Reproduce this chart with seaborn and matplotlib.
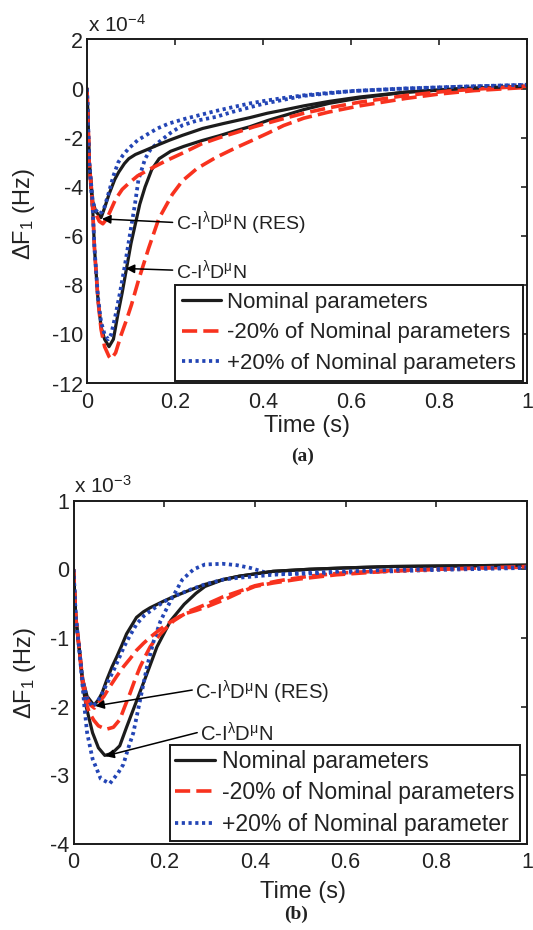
import matplotlib
matplotlib.use("Agg")
import matplotlib.pyplot as plt
import seaborn as sns

# ---------------- data : panel (a)  (values in units of 1e-4 Hz) ----------------
t_a_nom = [0, 0.005, 0.013, 0.017, 0.025, 0.032, 0.04, 0.05, 0.06, 0.07, 0.08, 0.09, 0.1, 0.11,
           0.12, 0.132, 0.147, 0.164, 0.19, 0.22, 0.26, 0.3, 0.34, 0.37, 0.41, 0.447, 0.493,
           0.55, 0.62, 0.72, 0.85, 1.0]
v_a_nom = [0, -3.0, -4.9, -6.5, -8.6, -9.7, -10.2, -10.5, -10.2, -9.2, -8.3, -7.3, -6.3, -5.5,
           -4.7, -4.0, -3.3, -2.85, -2.55, -2.35, -2.12, -1.92, -1.7, -1.55, -1.3, -1.1, -0.85,
           -0.6, -0.38, -0.15, 0.0, 0.08]

t_a_m20 = [0, 0.005, 0.013, 0.017, 0.025, 0.032, 0.04, 0.05, 0.055, 0.065, 0.078, 0.09, 0.101,
           0.117, 0.14, 0.163, 0.194, 0.217, 0.25, 0.293, 0.339, 0.37, 0.41, 0.447, 0.493, 0.55,
           0.62, 0.724, 0.8, 0.88, 0.954, 1.0]
v_a_m20 = [0, -3.0, -4.9, -6.5, -8.6, -9.8, -10.5, -10.9, -11.0, -10.75, -10.0, -9.4, -8.8,
           -7.8, -6.5, -5.3, -4.3, -3.75, -3.25, -2.8, -2.4, -2.15, -1.82, -1.5, -1.2, -0.95,
           -0.7, -0.4, -0.22, -0.08, 0.0, 0.05]

t_a_p20 = [0, 0.005, 0.013, 0.017, 0.025, 0.032, 0.04, 0.048, 0.055, 0.065, 0.075, 0.086, 0.097,
           0.109, 0.117, 0.132, 0.145, 0.163, 0.19, 0.217, 0.25, 0.293, 0.33, 0.4, 0.49, 0.6,
           0.72, 0.85, 1.0]
v_a_p20 = [0, -3.0, -4.9, -6.5, -8.5, -9.5, -10.0, -10.2, -10.0, -9.2, -8.3, -7.2, -6.0, -4.7,
           -3.7, -2.86, -2.45, -2.18, -1.8, -1.49, -1.3, -1.15, -0.95, -0.62, -0.3, -0.1, 0.0,
           0.08, 0.15]

t_a_nom_res = [0, 0.005, 0.013, 0.02, 0.032, 0.04, 0.05, 0.063, 0.072, 0.085, 0.095, 0.11,
               0.134, 0.16, 0.187, 0.217, 0.263, 0.31, 0.34, 0.37, 0.41, 0.447, 0.493, 0.55,
               0.62, 0.72, 0.85, 1.0]
v_a_nom_res = [0, -3.0, -4.6, -5.0, -5.25, -4.85, -4.3, -3.7, -3.4, -3.05, -2.85, -2.68, -2.5,
               -2.3, -2.1, -1.9, -1.62, -1.42, -1.3, -1.18, -1.0, -0.87, -0.7, -0.52, -0.34,
               -0.15, 0.0, 0.1]

t_a_m20_res = [0, 0.005, 0.013, 0.02, 0.028, 0.036, 0.045, 0.055, 0.065, 0.08, 0.095, 0.115,
               0.14, 0.178, 0.22, 0.26, 0.3, 0.34, 0.38, 0.447, 0.493, 0.55, 0.62, 0.724, 0.82,
               0.92, 1.0]
v_a_m20_res = [0, -3.0, -4.7, -5.1, -5.4, -5.5, -5.3, -4.9, -4.5, -4.1, -3.85, -3.55, -3.3,
               -2.95, -2.6, -2.25, -2.0, -1.78, -1.55, -1.22, -1.0, -0.78, -0.55, -0.28, -0.1,
               0.02, 0.1]

t_a_p20_res = [0, 0.005, 0.013, 0.02, 0.028, 0.035, 0.04, 0.05, 0.06, 0.071, 0.082, 0.094,
               0.115, 0.14, 0.16, 0.186, 0.22, 0.255, 0.29, 0.332, 0.37, 0.409, 0.45, 0.493,
               0.55, 0.62, 0.724, 0.85, 1.0]
v_a_p20_res = [0, -3.0, -4.6, -4.95, -5.1, -5.0, -4.8, -4.2, -3.55, -3.0, -2.7, -2.45, -2.1,
               -1.83, -1.62, -1.42, -1.24, -1.08, -0.92, -0.75, -0.6, -0.48, -0.37, -0.27,
               -0.17, -0.08, 0.01, 0.08, 0.16]

# ---------------- data : panel (b)  (values in units of 1e-3 Hz) ----------------
t_b_nom = [0, 0.005, 0.013, 0.02, 0.028, 0.042, 0.055, 0.069, 0.085, 0.102, 0.117, 0.132,
           0.147, 0.162, 0.184, 0.214, 0.244, 0.27, 0.29, 0.33, 0.366, 0.44, 0.52, 0.6, 0.7,
           0.85, 1.0]
v_b_nom = [0, -0.7, -1.18, -1.66, -2.0, -2.38, -2.6, -2.71, -2.68, -2.57, -2.3, -2.04, -1.78,
           -1.52, -1.13, -0.75, -0.51, -0.35, -0.25, -0.15, -0.1, -0.03, 0.0, 0.02, 0.04,
           0.05, 0.06]

t_b_m20 = [0, 0.005, 0.013, 0.02, 0.028, 0.035, 0.045, 0.055, 0.072, 0.088, 0.102, 0.113,
           0.125, 0.136, 0.147, 0.158, 0.169, 0.18, 0.192, 0.205, 0.221, 0.24, 0.259, 0.296,
           0.33, 0.37, 0.4, 0.45, 0.52, 0.6, 0.7, 0.8, 0.9, 1.0]
v_b_m20 = [0, -0.7, -1.18, -1.66, -1.95, -2.09, -2.2, -2.28, -2.33, -2.3, -2.19, -2.0, -1.8,
           -1.6, -1.42, -1.27, -1.13, -1.03, -0.94, -0.85, -0.75, -0.67, -0.6, -0.5, -0.4,
           -0.31, -0.24, -0.17, -0.1, -0.05, -0.02, 0.0, 0.02, 0.03]

t_b_p20 = [0, 0.005, 0.013, 0.02, 0.024, 0.03, 0.042, 0.06, 0.08, 0.098, 0.11, 0.12, 0.132,
           0.147, 0.162, 0.177, 0.192, 0.214, 0.24, 0.265, 0.29, 0.329, 0.36, 0.39, 0.42,
           0.47, 0.55, 0.65, 0.8, 1.0]
v_b_p20 = [0, -0.7, -1.18, -1.7, -2.0, -2.38, -2.76, -3.05, -3.12, -2.97, -2.84, -2.62, -2.38,
           -1.9, -1.42, -1.04, -0.75, -0.46, -0.15, 0.0, 0.07, 0.08, 0.06, 0.02, -0.04, -0.07,
           -0.06, -0.04, -0.01, 0.02]

t_b_nom_res = [0, 0.005, 0.013, 0.02, 0.03, 0.045, 0.055, 0.063, 0.074, 0.085, 0.095, 0.107,
               0.117, 0.128, 0.139, 0.154, 0.169, 0.2, 0.217, 0.25, 0.29, 0.33, 0.366, 0.44,
               0.52, 0.6, 0.7, 0.85, 1.0]
v_b_nom_res = [0, -0.7, -1.18, -1.6, -1.85, -1.98, -1.9, -1.8, -1.6, -1.42, -1.28, -1.1, -0.94,
               -0.82, -0.7, -0.62, -0.56, -0.46, -0.41, -0.32, -0.22, -0.15, -0.1, -0.03, 0.0,
               0.02, 0.04, 0.05, 0.06]

t_b_m20_res = [0, 0.005, 0.013, 0.02, 0.03, 0.038, 0.046, 0.055, 0.067, 0.08, 0.095, 0.11,
               0.125, 0.139, 0.154, 0.169, 0.186, 0.206, 0.225, 0.244, 0.27, 0.296, 0.33, 0.366,
               0.4, 0.44, 0.5, 0.58, 0.69, 0.8, 0.9, 1.0]
v_b_m20_res = [0, -0.7, -1.18, -1.6, -1.88, -1.98, -2.02, -1.95, -1.85, -1.71, -1.56, -1.42,
               -1.3, -1.18, -1.08, -0.99, -0.9, -0.8, -0.72, -0.65, -0.6, -0.54, -0.45, -0.34,
               -0.25, -0.2, -0.14, -0.08, -0.03, 0.0, 0.02, 0.04]

t_b_p20_res = [0, 0.005, 0.013, 0.02, 0.03, 0.042, 0.05, 0.06, 0.075, 0.09, 0.1, 0.112, 0.125,
               0.139, 0.155, 0.175, 0.2, 0.23, 0.26, 0.29, 0.33, 0.37, 0.44, 0.52, 0.6, 0.7,
               0.85, 1.0]
v_b_p20_res = [0, -0.7, -1.18, -1.62, -1.88, -2.0, -1.95, -1.85, -1.65, -1.45, -1.3, -1.12,
               -0.96, -0.8, -0.68, -0.58, -0.47, -0.37, -0.29, -0.22, -0.15, -0.12, -0.08,
               -0.05, -0.03, -0.01, 0.01, 0.03]

legend_a = ["Nominal parameters", "-20% of Nominal parameters", "+20% of Nominal parameters"]
legend_b = ["Nominal parameters", "-20% of Nominal parameters", "+20% of Nominal parameter"]
xticks = [0, 0.2, 0.4, 0.6, 0.8, 1]
xticklabels = ["0", "0.2", "0.4", "0.6", "0.8", "1"]
yticks_a = [2, 0, -2, -4, -6, -8, -10, -12]
yticks_b = [1, 0, -1, -2, -3, -4]

# ---------------- style ----------------
sns.set_theme(style="white")
plt.rcParams["font.family"] = ["Liberation Sans", "DejaVu Sans"]
plt.rcParams["mathtext.fontset"] = "custom"
plt.rcParams["mathtext.rm"] = "Liberation Sans"
plt.rcParams["mathtext.it"] = "Liberation Sans"
plt.rcParams["axes.unicode_minus"] = False

TXT = "#222222"
BLACK = "#1c1c1c"
RED = "#f8321e"
BLUE = "#2345b5"
styles = [
    dict(color=BLACK, linestyle="-", lw=2.3),
    dict(color=RED, linestyle=(0, (4.2, 1.7)), lw=2.6),
    dict(color=BLUE, linestyle=(0, (0.85, 0.95)), lw=2.7),
]

W, H = 533, 930
fig = plt.figure(figsize=(W / 100, H / 100), dpi=100)


def fx(px):
    return px / W


def fy(py):
    return 1 - py / H


def style_axes(ax, yticks, ylim):
    ax.set_xlim(0, 1)
    ax.set_ylim(*ylim)
    ax.set_xticks(xticks)
    ax.set_xticklabels(xticklabels)
    ax.set_yticks(yticks)
    ax.set_yticklabels([str(v) for v in yticks])
    ax.tick_params(direction="in", length=4, width=1.2, top=True, right=True,
                   labelsize=15.5, colors=TXT)
    ax.tick_params(axis="x", pad=6)
    ax.tick_params(axis="y", pad=3)
    for s in ax.spines.values():
        s.set_visible(True)
        s.set_color("#1a1a1a")
        s.set_linewidth(1.4)
    ax.grid(False)


def draw_panel(ax, mains, res, labels):
    for (t, v), st, lab in zip(mains, styles, labels):
        sns.lineplot(x=t, y=v, ax=ax, estimator=None, sort=False, label=lab, **st)
    for (t, v), st in zip(res, styles):
        sns.lineplot(x=t, y=v, ax=ax, estimator=None, sort=False, **st)


# axes boxes in pixels (left, top, right, bottom)
box_a = (87, 39.5, 527, 383.5)
box_b = (73.5, 500.6, 527, 844)

axa = fig.add_axes([fx(box_a[0]), fy(box_a[3]), (box_a[2] - box_a[0]) / W, (box_a[3] - box_a[1]) / H])
draw_panel(axa,
           [(t_a_nom, v_a_nom), (t_a_m20, v_a_m20), (t_a_p20, v_a_p20)],
           [(t_a_nom_res, v_a_nom_res), (t_a_m20_res, v_a_m20_res), (t_a_p20_res, v_a_p20_res)],
           legend_a)
style_axes(axa, yticks_a, (-12, 2))

axb = fig.add_axes([fx(box_b[0]), fy(box_b[3]), (box_b[2] - box_b[0]) / W, (box_b[3] - box_b[1]) / H])
draw_panel(axb,
           [(t_b_nom, v_b_nom), (t_b_m20, v_b_m20), (t_b_p20, v_b_p20)],
           [(t_b_nom_res, v_b_nom_res), (t_b_m20_res, v_b_m20_res), (t_b_p20_res, v_b_p20_res)],
           legend_b)
style_axes(axb, yticks_b, (-4, 1))

# legends
for ax, (lx, ly), labs, fs, ls, bp in ((axa, (175, 285), legend_a, 16.0, 0.44, 0.3),
                                       (axb, (170, 745), legend_b, 16.6, 0.36, 0.22)):
    handles = ax.get_legend_handles_labels()[0][:3]
    leg = ax.legend(handles, labs, loc="upper left", bbox_to_anchor=(fx(lx), fy(ly)),
                    bbox_transform=fig.transFigure, borderaxespad=0, fontsize=fs,
                    frameon=True, fancybox=False, framealpha=1, edgecolor="#1a1a1a",
                    handlelength=1.75, handletextpad=0.3, labelspacing=ls,
                    borderpad=bp)
    leg.get_frame().set_linewidth(1.4)
    for txt in leg.get_texts():
        txt.set_color(TXT)


def ax_frac(box, px, py):
    return ((px - box[0]) / (box[2] - box[0]), (box[3] - py) / (box[3] - box[1]))


for ax, box, xl, yl in ((axa, box_a, (306.7, 426), (24, 214)), (axb, box_b, (303, 892), (24.6, 673))):
    ax.set_xlabel("Time (s)", fontsize=17, color=TXT, va="center")
    ax.xaxis.set_label_coords(*ax_frac(box, *xl))
    ax.set_ylabel("ΔF$_{\\mathregular{1}}$ (Hz)", fontsize=17, color=TXT, va="center")
    ax.yaxis.set_label_coords(*ax_frac(box, *yl))

# exponent labels
fig.text(fx(87.7), fy(32.3), "x 10$^{\\mathregular{-4}}$", fontsize=15, color=TXT, va="baseline")
fig.text(fx(74), fy(493), "x 10$^{\\mathregular{-3}}$", fontsize=15, color=TXT, va="baseline")

# annotations
arrow = dict(arrowstyle="-|>", color="black", lw=1.1, shrinkA=0, shrinkB=0, mutation_scale=13)
lab_res = "C-I$^{\\mathregular{λ}}$D$^{\\mathregular{μ}}$N (RES)"
lab_main = "C-I$^{\\mathregular{λ}}$D$^{\\mathregular{μ}}$N"
axa.annotate(lab_res, xy=(0.034, -5.3), xytext=(0.202, -5.45), fontsize=14, color=TXT,
             ha="left", va="center", arrowprops=dict(arrow, relpos=(0, 0.5)))
axa.annotate(lab_main, xy=(0.088, -7.32), xytext=(0.202, -7.39), fontsize=14, color=TXT,
             ha="left", va="center", arrowprops=dict(arrow, relpos=(0, 0.5)))
axb.annotate(lab_res, xy=(0.048, -1.99), xytext=(0.269, -1.79), fontsize=14.6, color=TXT,
             ha="left", va="center", arrowprops=dict(arrow, relpos=(0, 0.6)))
axb.annotate(lab_main, xy=(0.07, -2.72), xytext=(0.28, -2.40), fontsize=14.6, color=TXT,
             ha="left", va="center", arrowprops=dict(arrow, relpos=(0, 0.6)))

# captions
fig.text(fx(302.5), fy(456.7), "(a)", fontsize=14, fontweight="bold", family="Liberation Serif",
         ha="center", va="center", color=TXT)
fig.text(fx(296.5), fy(914), "(b)", fontsize=14, fontweight="bold", family="Liberation Serif",
         ha="center", va="center", color=TXT)

fig.savefig("out.png", dpi=100)
